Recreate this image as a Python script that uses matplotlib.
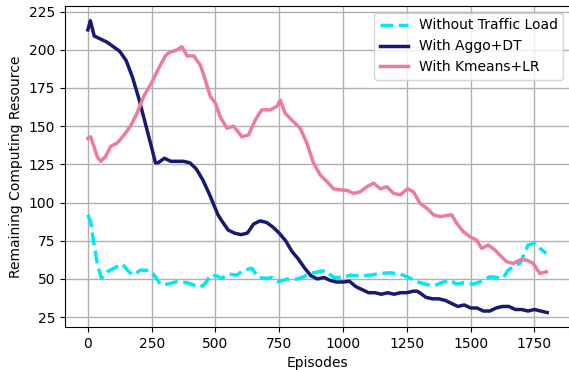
import matplotlib
matplotlib.use("Agg")
import matplotlib.pyplot as plt

# values
ep_none = [0, 11, 24, 37, 53, 76, 102, 135, 161, 180, 206, 245, 265, 285, 311, 350, 389, 415,
           441, 460, 480, 506, 525, 551, 584, 610, 643, 669, 702, 721, 747, 780, 819, 845, 871,
           904, 930, 963, 1002, 1028, 1067, 1107, 1146, 1185, 1224, 1257, 1290, 1322, 1354,
           1380, 1419, 1445, 1471, 1510, 1549, 1575, 1601, 1627, 1647, 1667, 1693, 1712, 1725,
           1751, 1771, 1797]
without_load = [92, 87.5, 73, 60, 50.4, 54.7, 57, 59.8, 54.7, 52.5, 55.8, 55.5, 51.4, 46.4, 46.6,
                48.2, 47.6, 46, 44.5, 47, 52.5, 51.9, 50.4, 53.2, 52.5, 55.8, 56.9, 50.8, 50.4,
                50.9, 48.2, 49.9, 49.9, 51.4, 53.6, 54.7, 55.5, 51, 51, 52.5, 51.9, 52.5, 53.6,
                54, 53.2, 51, 48.2, 46.6, 45.3, 47.2, 49.3, 46.6, 47.5, 46.6, 48.8, 51.4, 51,
                50.4, 55.8, 58, 60.2, 66.8, 72.2, 73.3, 70, 66.8]

ep_aggo = [0, 10, 25, 50, 75, 100, 125, 150, 175, 200, 225, 250, 265, 275, 300, 325, 350, 375,
           400, 425, 450, 475, 490, 510, 525, 550, 575, 600, 625, 650, 675, 700, 725, 750, 775,
           800, 825, 850, 875, 900, 925, 950, 975, 1000, 1025, 1050, 1075, 1100, 1125, 1150,
           1175, 1200, 1225, 1250, 1275, 1290, 1300, 1325, 1350, 1375, 1400, 1425, 1450, 1475,
           1500, 1525, 1550, 1575, 1600, 1625, 1650, 1675, 1700, 1725, 1750, 1775, 1800]
aggo_dt = [213, 219, 209, 207, 205, 202, 199, 193, 182, 168, 152, 136, 126, 126, 129, 127, 127,
           127, 126, 122, 115, 106, 100, 92, 88, 82, 80, 79, 80, 86, 88, 87, 84, 80, 75, 68, 63,
           57, 52, 50, 51, 49, 48, 48, 48.5, 45, 43, 41, 41, 40, 41, 40, 41, 41, 42, 42, 41, 38,
           37, 37, 36, 34, 32, 33, 31, 31, 29, 29, 31, 32, 32, 30, 30, 29, 30, 29, 28]

ep_km = [0, 11, 24, 37, 50, 69, 89, 115, 141, 167, 193, 219, 252, 278, 304, 317, 350, 369, 389,
         415, 441, 460, 480, 500, 519, 545, 571, 604, 630, 656, 682, 715, 741, 754, 773, 799,
         832, 858, 884, 911, 937, 963, 989, 1015, 1041, 1067, 1094, 1120, 1146, 1172, 1198,
         1224, 1253, 1276, 1302, 1328, 1354, 1380, 1426, 1445, 1471, 1497, 1523, 1543, 1569,
         1595, 1621, 1641, 1667, 1693, 1719, 1745, 1771, 1797]
kmeans_lr = [142, 143, 136.7, 130, 127, 130, 136.7, 139, 144, 150, 158.6, 169.5, 179, 188, 196,
             198, 200, 202, 196, 196, 190, 180.4, 169.5, 165, 156, 148.7, 150, 143, 144.3, 154,
             160.7, 160.7, 163, 167, 158.6, 154, 148.7, 139, 126, 118, 113.7, 109, 108.3, 108,
             106, 107, 110.4, 112.7, 109, 110.4, 106, 105, 109, 107, 99.5, 96.3, 92, 90.8, 92,
             86.5, 81, 77.7, 75.5, 70, 72.2, 69, 64.5, 61.3, 60.2, 62.4, 62.4, 60.2, 53.6, 54.7]

fig = plt.figure(figsize=(5.69, 3.70), dpi=100)
ax = fig.add_axes([0.114, 0.116, 0.888, 0.868])

ax.plot(ep_none, without_load, '--', color='#00e8f0', lw=2.5, label='Without Traffic Load')
ax.plot(ep_aggo, aggo_dt, '-', color='#191970', lw=2.5, label='With Aggo+DT')
ax.plot(ep_km, kmeans_lr, '-', color='#ee7b9c', lw=2.5, label='With Kmeans+LR')

ax.set_xticks([0, 250, 500, 750, 1000, 1250, 1500, 1750])
ax.set_yticks([25, 50, 75, 100, 125, 150, 175, 200, 225])
ax.set_xlim(-90, 1890)
ax.set_ylim(18.5, 228.7)
ax.grid(True, color='#b0b0b0', lw=1)
ax.set_xlabel('Episodes')
ax.set_ylabel('Remaining Computing Resource')
ax.legend(loc='upper right')

fig.savefig('out.png', dpi=100)
